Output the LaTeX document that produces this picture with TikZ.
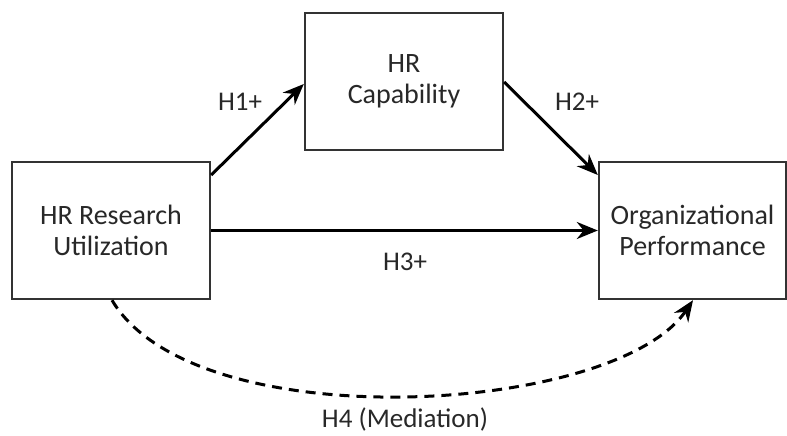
\documentclass[tikz,border=0pt]{standalone}
\usepackage{fontspec}
\setmainfont{Carlito}
\usetikzlibrary{arrows.meta, positioning, calc}
\definecolor{textgrey}{RGB}{40,40,40}

\begin{document}
\begin{tikzpicture}[x=1pt, y=-1pt,
    box/.style={draw=black!80, line width=2.4pt, fill=white, align=center,
                text=textgrey, font=\fontsize{28}{31}\selectfont, inner sep=0pt},
    link/.style={line width=3pt, black, -{Stealth[length=21pt, width=17pt]}},
    hlabel/.style={text=textgrey, font=\fontsize{27}{30}\selectfont, inner sep=1pt}]
    \useasboundingbox (0,0) rectangle (787,436);

    % --- the three constructs ---
    \node[box, minimum width=198pt, minimum height=137pt] (util) at (111,230.5) {HR Research\\Utilization};
    \node[box, minimum width=198pt, minimum height=137pt] (capab) at (404,81.5) {HR\\Capability};
    \node[box, minimum width=187pt, minimum height=137pt] (perf) at (692.5,230.5) {Organizational\\Performance};

    % --- hypotheses ---
    \draw[link] (util.east |- 0,175) -- (capab.west |- 0,84);
    \draw[link] (capab.east |- 0,82) -- (perf.west |- 0,175);
    \draw[link] (util.east) -- (perf.west);
    \node[hlabel] (hone) at (240,102) {H1+};
    \node[hlabel] (htwo) at (577,102) {H2+};
    \node[hlabel] (hthree) at (405,262) {H3+};

    % --- mediation path ---
    \coordinate (mstart) at (util.south -| 112,0);
    \coordinate (mend) at (perf.south -| 693,0);
    \draw[link, dash pattern=on 10pt off 7pt] (mstart) .. controls (195,440) and (615,415) .. (mend);
    \node[hlabel] (hfour) at (405,419) {H4 (Mediation)};
\end{tikzpicture}
\end{document}
